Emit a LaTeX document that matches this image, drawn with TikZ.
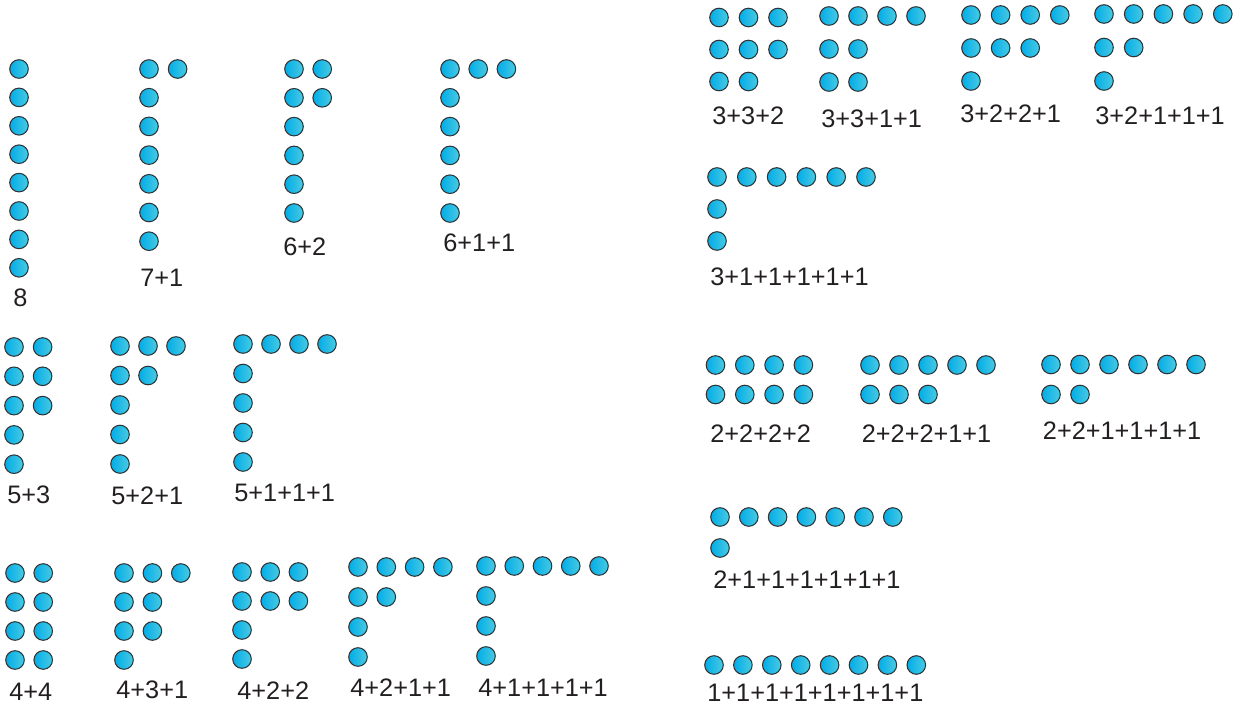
\documentclass[tikz,border=0pt]{standalone}
\usepackage{fontspec}
\setmainfont{Liberation Sans}
\usepackage{tikz}
\definecolor{DotCyan}{HTML}{00ADE9}
\definecolor{DotLight}{HTML}{4CC9E0}
\definecolor{DotEdge}{HTML}{2E3436}
\definecolor{LabelInk}{HTML}{231F20}
\tikzset{
  dot/.style={draw=DotEdge, line width=0.6pt, left color=DotCyan, middle color=DotCyan, right color=DotLight},
  plabel/.style={font=\fontsize{14.4}{17}\selectfont, text=LabelInk, inner sep=0pt, anchor=west},
}
% #1,#2 first dot, #3 column step, #4 row step, #5 row lengths
\newcommand{\ferrers}[5]{%
  \foreach \rowlen [count=\row from 0] in {#5}{
    \foreach \col in {1,...,\rowlen}{
      \path[dot] (#1+#3*\col-#3, #2+#4*\row) circle[radius=0.186cm];
    }
  }%
}

\begin{document}
\begin{tikzpicture}[x=0.02cm, y=-0.02cm]
    \useasboundingbox (0,0) rectangle (1241,706);

    % parts of 8 starting with 8, 7, 6
    \ferrers{19}{69}{28.2}{28.4}{1,1,1,1,1,1,1,1}
    \node[plabel] (p8) at (13, 298) {8};
    \ferrers{149}{69}{28.6}{28.7}{2,1,1,1,1,1,1}
    \node[plabel] (p71) at (140, 278) {7+1};
    \ferrers{294}{69}{28.2}{28.8}{2,2,1,1,1,1}
    \node[plabel] (p62) at (283, 247) {6+2};
    \ferrers{450}{69}{28.2}{28.8}{3,1,1,1,1,1}
    \node[plabel] (p611) at (443, 243) {6+1+1};

    % starting with 5
    \ferrers{14}{347}{28.6}{29.3}{2,2,2,1,1}
    \node[plabel] (p53) at (7, 495) {5+3};
    \ferrers{120}{346}{28}{29.5}{3,2,1,1,1}
    \node[plabel] (p521) at (111, 496) {5+2+1};
    \ferrers{243}{344}{28}{29.5}{4,1,1,1,1}
    \node[plabel] (p5111) at (234, 493) {5+1+1+1};

    % starting with 4
    \ferrers{15}{573}{28.2}{29}{2,2,2,2}
    \node[plabel] (p44) at (9, 692) {4+4};
    \ferrers{124}{573}{28.4}{29}{3,2,2,1}
    \node[plabel] (p431) at (116, 690) {4+3+1};
    \ferrers{242}{572}{28.2}{29}{3,3,1,1}
    \node[plabel] (p422) at (237, 691) {4+2+2};
    \ferrers{358}{567}{28.3}{30}{4,2,1,1}
    \node[plabel] (p4211) at (350, 688) {4+2+1+1};
    \ferrers{486}{566}{28.25}{30}{5,1,1,1}
    \node[plabel] (p41111) at (478, 688) {4+1+1+1+1};

    % starting with 3
    \ferrers{719}{17.5}{29.5}{32}{3,3,2}
    \node[plabel] (p332) at (712, 116) {3+3+2};
    \ferrers{829}{16}{29}{33}{4,2,2}
    \node[plabel] (p3311) at (821, 119) {3+3+1+1};
    \ferrers{971}{15}{29.6}{33}{4,3,1}
    \node[plabel] (p3221) at (960, 114) {3+2+2+1};
    \ferrers{1104}{14}{29.7}{33.5}{5,2,1}
    \node[plabel] (p32111) at (1095, 116) {3+2+1+1+1};
    \ferrers{717}{177}{29.8}{32}{6,1,1}
    \node[plabel] (p311111) at (710, 277) {3+1+1+1+1+1};

    % starting with 2
    \ferrers{715.5}{365}{29.3}{29.5}{4,4}
    \node[plabel] (p2222) at (710, 434) {2+2+2+2};
    \ferrers{870}{365}{29}{29.5}{5,3}
    \node[plabel] (p22211) at (861.5, 434) {2+2+2+1+1};
    \ferrers{1051}{364.5}{29}{30}{6,2}
    \node[plabel] (p221111) at (1042.6, 431) {2+2+1+1+1+1};
    \ferrers{720}{517}{28.8}{31}{7,1}
    \node[plabel] (p2111111) at (713, 580) {2+1+1+1+1+1+1};

    % all ones
    \ferrers{714}{665}{28.9}{30}{8}
    \node[plabel] (p11111111) at (707, 693) {1+1+1+1+1+1+1+1};
  \end{tikzpicture}
\end{document}
